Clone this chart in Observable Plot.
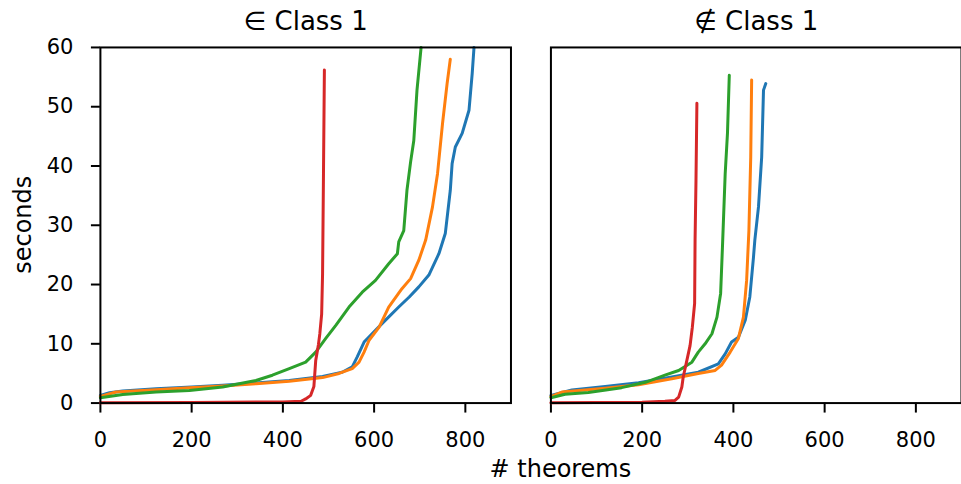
<!DOCTYPE html>
<html><head><meta charset="utf-8">
<script src="https://cdn.jsdelivr.net/npm/d3@7"></script>
<script src="https://cdn.jsdelivr.net/npm/@observablehq/plot@0.6"></script>
<style>
html,body{margin:0;padding:0;background:#fff;overflow:hidden;}
#wrap{width:961px;height:484px;overflow:hidden;position:relative;}
</style></head><body><div id="wrap"></div>
<script>
const panels = ["∈ Class 1", "∉ Class 1"];
const solvers = ["A", "B", "C", "D"];
const colors = ["#1f77b4", "#ff7f0e", "#2ca02c", "#d62728"];
const xTicks = [0, 200, 400, 600, 800];
const yTicks = [0, 10, 20, 30, 40, 50, 60];
const xLabel = "# theorems";
const yLabel = "seconds";

// ∈ Class 1 : [theorems, seconds]
const inA = [[0,1.3],[20,1.75],[49,2.05],[122,2.4],[200,2.7],[268,3.0],[340,3.4],[414,3.8],[487,4.5],[530,5.2],[552,6.1],[563,7.8],[578,10.3],[603,12.3],[625,14.0],[654,16.2],[677,17.9],[698,19.6],[720,21.6],[742,25.2],[756,28.6],[767,35.9],[771,40.4],[778,43.2],[793,45.5],[808,49.4],[815,55.6],[819,60]];
const inB = [[0,1.1],[34,1.86],[122,2.25],[195,2.6],[268,2.9],[341,3.26],[414,3.7],[487,4.3],[523,5.0],[552,5.8],[567,6.9],[578,8.6],[589,10.6],[611,12.8],[632,16.2],[661,19.3],[680,21.0],[698,24.1],[713,27.5],[728,33.1],[739,38.7],[750,47.2],[760,53.9],[767,58.0]];
const inC = [[0,0.9],[49,1.46],[122,1.86],[195,2.14],[268,2.7],[304,3.26],[341,3.8],[377,4.7],[414,5.8],[450,6.9],[472,8.6],[494,10.9],[516,13.1],[545,16.2],[574,18.7],[603,20.7],[632,23.5],[651,25.2],[654,27.2],[665,29.1],[672,35.9],[680,40.7],[687,44.3],[694,52.8],[703,60]];
const inD = [[0,0.05],[200,0.1],[400,0.2],[440,0.3],[450,0.7],[461,1.3],[468,2.8],[472,7.2],[478,9.9],[481,11.7],[485,15.0],[487,21.8],[489,38.7],[491,56.2]];

// ∉ Class 1
const outA = [[0,1.3],[46,2.2],[119,2.8],[192,3.45],[265,4.4],[323,5.2],[367,6.6],[382,8.3],[396,10.3],[411,11.1],[426,14.0],[436,17.9],[444,24.6],[447,27.5],[455,33.1],[462,41.5],[466,52.8],[471,53.9]];
const outB = [[0,1.1],[24,1.86],[119,2.5],[192,3.1],[265,4.1],[323,5.0],[360,5.5],[374,6.4],[393,8.6],[411,10.9],[422,14.5],[429,20.7],[434,29.1],[438,41.5],[440,54.5]];
const outC = [[0,0.9],[31,1.5],[82,1.8],[155,2.6],[207,3.5],[250,4.7],[280,5.5],[309,6.9],[323,8.6],[338,10.0],[353,11.7],[364,14.5],[372,18.5],[376,26.3],[382,38.7],[387,45.5],[391,55.3]];
const outD = [[0,0.05],[200,0.15],[250,0.3],[272,0.45],[280,1.0],[287,2.7],[290,4.4],[298,7.2],[305,9.7],[310,12.8],[315,16.8],[316,27.5],[318,37.6],[320,50.6]];

const series = [
  [panels[0], solvers[0], inA], [panels[0], solvers[1], inB], [panels[0], solvers[2], inC], [panels[0], solvers[3], inD],
  [panels[1], solvers[0], outA], [panels[1], solvers[1], outB], [panels[1], solvers[2], outC], [panels[1], solvers[3], outD]
];
const data = series.flatMap(([panel, solver, pts]) => pts.map(([x, y]) => ({panel, solver, x, y})));

const chart = Plot.plot({
  width: 962, height: 484,
  marginLeft: 100, marginRight: 0, marginTop: 47, marginBottom: 81,
  style: {fontFamily: "DejaVu Sans", fontSize: "21px", color: "#000", background: "#fff", overflow: "visible"},
  fx: {domain: panels, paddingInner: 40 / 451, paddingOuter: 0, label: null},
  x: {domain: [0, 900], label: null},
  y: {domain: [0, 60], label: null},
  color: {domain: solvers, range: colors},
  marks: [
    Plot.axisFx({anchor: "top", tickSize: 0, tickPadding: 17, fontSize: 26, label: null}),
    Plot.axisX({ticks: xTicks, tickSize: 10, tickPadding: 19, strokeWidth: 2, fontSize: 21, label: null}),
    Plot.axisY({ticks: yTicks, tickSize: 9, tickPadding: 18, strokeWidth: 2, fontSize: 21, label: null}),
    Plot.line(data, {fx: "panel", x: "x", y: "y", z: "solver", stroke: "solver", strokeWidth: 3}),
    Plot.frame({stroke: "#000", strokeWidth: 2})
  ]
});
document.getElementById("wrap").appendChild(chart);
const svg = d3.select(chart);
svg.append("text")
  .attr("transform", "translate(23,225) rotate(-90)")
  .attr("text-anchor", "middle").attr("dy", "0.35em")
  .style("font-size", "24px").attr("fill", "#000")
  .text(yLabel);
svg.append("text")
  .attr("x", 561).attr("y", 478)
  .attr("text-anchor", "middle")
  .style("font-size", "24px").attr("fill", "#000")
  .text(xLabel);
</script></body></html>
